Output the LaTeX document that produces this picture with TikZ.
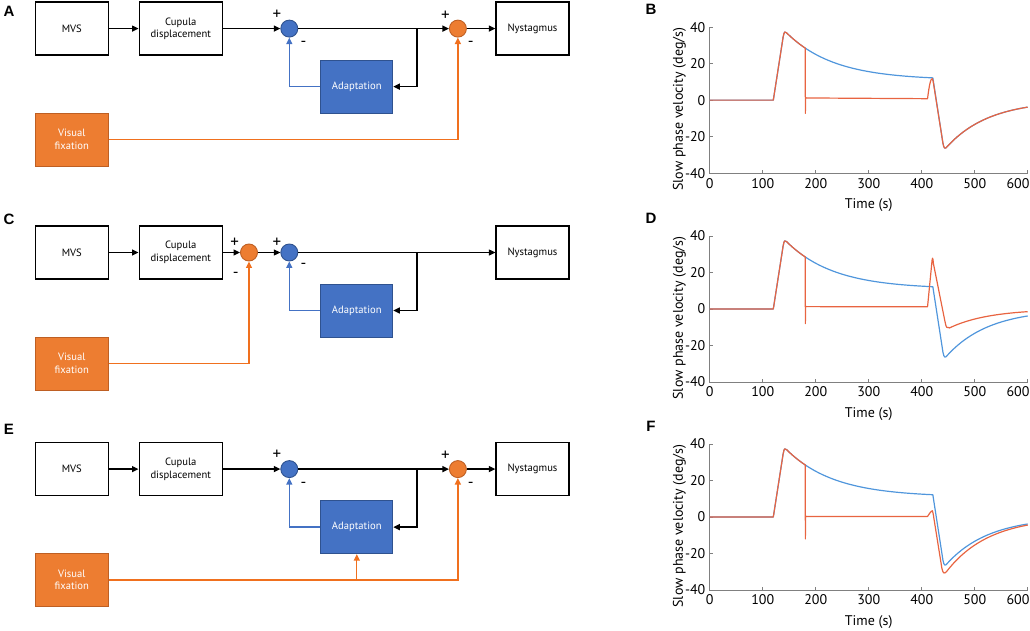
\documentclass[tikz,border=0pt]{standalone}
\usepackage{fontspec}
\setmainfont{PT Sans}
\newfontfamily\lblfont{Liberation Sans}
\usetikzlibrary{arrows.meta}
\definecolor{abox}{RGB}{68,114,196}
\definecolor{aboxd}{RGB}{47,82,143}
\definecolor{obox}{RGB}{237,125,49}
\definecolor{oboxd}{RGB}{190,95,35}
\definecolor{bline}{RGB}{68,114,196}
\definecolor{oline}{RGB}{240,112,30}
\definecolor{pblue}{RGB}{80,150,220}
\definecolor{pred}{RGB}{232,100,65}
\definecolor{axgray}{RGB}{128,128,128}
\tikzset{
  blk/.style={draw=black, line width=1.3pt, fill=white, minimum width=73pt, minimum height=53pt, align=center, font=\fontsize{10.6}{12.6}\selectfont, inner sep=1pt},
  cupbox/.style={blk, minimum width=83pt},
  adbox/.style={blk, draw=aboxd, fill=abox, text=white, line width=0.9pt, minimum width=72pt},
  vfbox/.style={blk, draw=oboxd, fill=obox, text=white, line width=0.9pt},
  bsum/.style={circle, draw=aboxd, fill=abox, minimum size=17pt, inner sep=0pt, line width=0.9pt},
  osum/.style={circle, draw=oboxd, fill=obox, minimum size=17pt, inner sep=0pt, line width=0.9pt},
  wire/.style={line width=1.3pt, -{Triangle[length=6.5pt,width=6pt]}},
  bwire/.style={wire, draw=bline},
  owire/.style={wire, draw=oline},
  plussign/.style={font=\fontsize{17}{17}\selectfont, inner sep=0pt},
  minussign/.style={font=\fontsize{16}{16}\selectfont, inner sep=0pt},
  plab/.style={font=\lblfont\bfseries\fontsize{15}{15}\selectfont, inner sep=0pt},
  ticklab/.style={font=\fontsize{14}{14}\selectfont, inner sep=0pt},
  axline/.style={draw=axgray, line width=1pt},
  curveb/.style={draw=pblue, line width=1.2pt, line join=round},
  curver/.style={draw=pred, line width=1.2pt, line join=round},
}
\newcommand{\plotframe}[2]{%
  \draw[axline] (709.7,{#1-73}) -- (709.7,{#1+73}) -- (1027.7,{#1+73});
  \foreach \t in {100,200,300,400,500,600}
    \draw[axline] ({709.7+0.53*\t},{#1+73}) -- ++(0,-3);
  \foreach \v in {-20,0,20,40}
    \draw[axline] (709.7,{#1-1.825*\v}) -- ++(3,0);
  \foreach \t/\n in {0/a,100/b,200/c,300/d,400/e,500/f}
    \node[ticklab] (xl#2\n) at ({709.7+0.53*\t},{#1+83}) {\t};
  \node[ticklab] (xl#2g) at (1018,{#1+83}) {600};
  \foreach \v/\n in {-40/a,-20/b,0/c,20/d,40/e}
    \node[ticklab, anchor=east] (yl#2\n) at (705.5,{#1-1.825*\v}) {\v};
  \node[ticklab] (tl#2) at (868.7,{#1+105}) {Time (s)};
  \node[ticklab, rotate=90] (vl#2) at (679.3,{#1+9}) {Slow phase velocity (deg/s)};
  \node[plab] (lt#2) at (651,{#1-91}) {#2};
}
\newcommand{\bluecurve}{%
  \draw[curveb] (0,0) -- (120,0) -- (138.5,34.5) .. controls (140.5,38) and (142.5,37.8) .. (145,36.9)
    -- plot[domain=145:421, samples=60] (\x,{11+26.2*exp(-(\x-144)/90)})
    -- (440,-23.5) .. controls (442,-27) and (444.5,-26.8) .. (448,-25.5)
    -- plot[domain=448:600, samples=40] (\x,{-26.8*exp(-(\x-444)/80)});
}
\begin{document}
\begin{tikzpicture}[x=1pt, y=-1pt]
\useasboundingbox (0,0) rectangle (1030,631);

% ---------------- Panel A ----------------
\node[plab] (labA) at (9,11) {A};
\node[blk] (mvsA) at (71.8,28.6) {MVS};
\node[cupbox] (cupA) at (180.7,28.6) {Cupula\\displacement};
\node[bsum] (sbA) at (289.3,28.6) {};
\node[osum] (soA) at (457.9,28.6) {};
\node[blk] (nysA) at (532.5,28.6) {Nystagmus};
\node[adbox] (adA) at (356.8,86.6) {Adaptation};
\node[vfbox] (vfA) at (71.8,139.6) {Visual\\fixation};
\coordinate (brA) at (417.1,28.6);
\draw[wire] (mvsA) -- (cupA);
\draw[wire] (cupA) -- (sbA);
\draw[wire] (sbA) -- (soA);
\draw[wire] (soA) -- (nysA);
\draw[wire] (brA) |- (adA.east);
\draw[bwire] (adA.west) -| (sbA.south);
\draw[owire] (vfA.east) -| (soA.south);
\node[plussign] (pa1) at (276.8,14.5) {+};
\node[minussign] (ma1) at (303.6,43.5) {-};
\node[plussign] (pa2) at (445.4,15.5) {+};
\node[minussign] (ma2) at (470.7,43.5) {-};

% ---------------- Panel C ----------------
\node[plab] (labC) at (9,219) {C};
\node[blk] (mvsC) at (71.8,252.5) {MVS};
\node[cupbox] (cupC) at (180.7,252.5) {Cupula\\displacement};
\node[osum] (soC) at (249,252.5) {};
\node[bsum] (sbC) at (289.3,252.5) {};
\node[blk] (nysC) at (532.5,252.5) {Nystagmus};
\node[adbox] (adC) at (356.8,310.5) {Adaptation};
\node[vfbox] (vfC) at (71.8,363.6) {Visual\\fixation};
\coordinate (brC) at (417.1,252.5);
\draw[wire] (mvsC) -- (cupC);
\draw[wire] (cupC) -- (soC);
\draw[wire] (soC) -- (sbC);
\draw[wire] (sbC) -- (nysC);
\draw[wire] (brC) |- (adC.east);
\draw[bwire] (adC.west) -| (sbC.south);
\draw[owire] (vfC.east) -| (soC.south);
\node[plussign] (pc1) at (234.6,242.5) {+};
\node[minussign] (mc1) at (235.7,275) {-};
\node[plussign] (pc2) at (276.8,242.5) {+};
\node[minussign] (mc2) at (303.6,266) {-};

% ---------------- Panel E ----------------
\node[plab] (labE) at (9,429) {E};
\node[blk] (mvsE) at (71.8,469.1) {MVS};
\node[cupbox] (cupE) at (180.7,469.1) {Cupula\\displacement};
\node[bsum] (sbE) at (289.3,469.1) {};
\node[osum] (soE) at (457.9,469.1) {};
\node[blk] (nysE) at (532.5,469.1) {Nystagmus};
\node[adbox] (adE) at (356.8,527.1) {Adaptation};
\node[vfbox] (vfE) at (71.8,580) {Visual\\fixation};
\coordinate (brE) at (417.1,469.1);
\coordinate (obE) at (356.8,580);
\draw[wire] (mvsE) -- (cupE);
\draw[wire] (cupE) -- (sbE);
\draw[wire] (sbE) -- (soE);
\draw[wire] (soE) -- (nysE);
\draw[wire] (brE) |- (adE.east);
\draw[bwire] (adE.west) -| (sbE.south);
\draw[owire] (vfE.east) -| (soE.south);
\draw[owire] (obE) -- (adE.south);
\node[plussign] (pe1) at (276.8,455) {+};
\node[minussign] (me1) at (303.6,484.5) {-};
\node[plussign] (pe2) at (445.4,456) {+};
\node[minussign] (me2) at (470.7,484.5) {-};

% ---------------- Plot B ----------------
\plotframe{100.15}{B}
\begin{scope}[shift={(709.7,100.15)}, xscale=0.53, yscale=-1.825]
  \bluecurve
  \draw[curver] (0,0) -- (120,0) -- (138.5,34.5) .. controls (140.5,38) and (142.5,37.8) .. (145,36.9)
    -- plot[domain=145:180.3, samples=12] (\x,{11+26.2*exp(-(\x-144)/90)})
    -- (180.5,-7.2) -- (180.8,1.5) -- (182,1.2) -- (411,0.8)
    .. controls (414,8) and (417,12) .. (420,11.8) -- (421.5,10.5)
    -- (440,-23.5) .. controls (442,-27) and (444.5,-26.8) .. (448,-25.5)
    -- plot[domain=448:600, samples=40] (\x,{-26.8*exp(-(\x-444)/80)});
\end{scope}

% ---------------- Plot D ----------------
\plotframe{309}{D}
\begin{scope}[shift={(709.7,309)}, xscale=0.53, yscale=-1.825]
  \bluecurve
  \draw[curver] (0,0) -- (120,0) -- (138.5,34.5) .. controls (140.5,38) and (142.5,37.8) .. (145,36.9)
    -- plot[domain=145:180.3, samples=12] (\x,{11+26.2*exp(-(\x-144)/90)})
    -- (180.5,-8) -- (180.8,1.6) -- (182,1.3) -- (411,1.2)
    -- (419,25) .. controls (420,28.8) and (421,28.8) .. (422,25)
    -- (444,-7) .. controls (446,-10.5) and (448.5,-10.6) .. (452,-10.2)
    -- plot[domain=452:600, samples=40] (\x,{-11*exp(-(\x-448)/75)});
\end{scope}

% ---------------- Plot F ----------------
\plotframe{517}{F}
\begin{scope}[shift={(709.7,517)}, xscale=0.53, yscale=-1.825]
  \bluecurve
  \draw[curver] (0,0) -- (120,0) -- (138.5,34.5) .. controls (140.5,38) and (142.5,37.8) .. (145,36.9)
    -- plot[domain=145:180.3, samples=12] (\x,{11+26.2*exp(-(\x-144)/90)})
    -- (180.5,-12) -- (180.8,0.6) -- (182,0.3) -- (411,0.3)
    .. controls (415,2) and (418,3.5) .. (420,3.5) -- (421.5,2)
    -- (438,-28) .. controls (440.5,-31.5) and (443,-31) .. (447,-29.9)
    -- plot[domain=447:600, samples=40] (\x,{-31*exp(-(\x-444)/80)});
\end{scope}
\end{tikzpicture}
\end{document}
